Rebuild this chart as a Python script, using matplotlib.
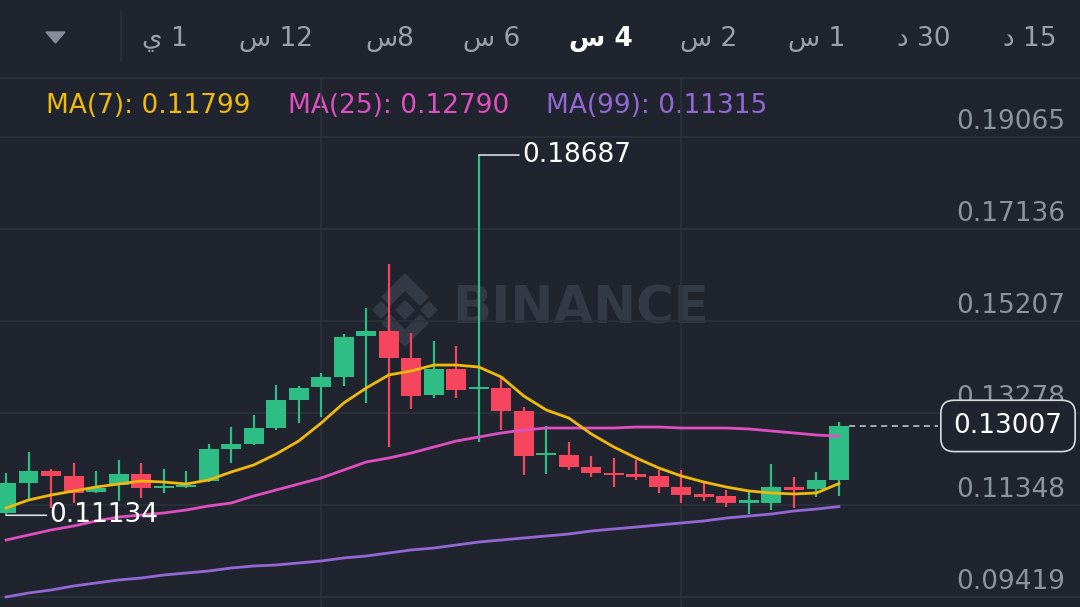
import numpy as np
import matplotlib
matplotlib.use("Agg")
import matplotlib.pyplot as plt
from matplotlib.patches import Polygon
from matplotlib.transforms import blended_transform_factory

opens = [0.11181, 0.11810, 0.12062, 0.11957, 0.11622, 0.11768, 0.11999, 0.11705, 0.11726, 0.11852,
         0.12523, 0.12628, 0.12963, 0.13551, 0.13823, 0.14033, 0.14892, 0.14997, 0.14431, 0.13655,
         0.14201, 0.13781, 0.13802, 0.13320, 0.12397, 0.12397, 0.12146, 0.12020, 0.11999, 0.11957,
         0.11726, 0.11580, 0.11538, 0.11391, 0.11391, 0.11726, 0.11685, 0.11873]
closes = [0.11810, 0.12062, 0.11957, 0.11601, 0.11705, 0.11999, 0.11705, 0.11747, 0.11768, 0.12523,
          0.12628, 0.12963, 0.13551, 0.13802, 0.14033, 0.14872, 0.14997, 0.14431, 0.13634, 0.14201,
          0.13760, 0.13823, 0.13320, 0.12376, 0.12439, 0.12146, 0.12020, 0.11978, 0.11936, 0.11726,
          0.11559, 0.11517, 0.11391, 0.11454, 0.11726, 0.11664, 0.11873, 0.13007]
highs = [0.12020, 0.12460, 0.12104, 0.12230, 0.12062, 0.12293, 0.12230, 0.12104, 0.12062, 0.12628,
         0.12984, 0.13236, 0.13865, 0.13844, 0.14117, 0.14934, 0.15480, 0.16402, 0.14955, 0.14788,
         0.14683, 0.18687, 0.14012, 0.13404, 0.13005, 0.12670, 0.12376, 0.12334, 0.12293, 0.12083,
         0.12083, 0.11831, 0.11664, 0.11664, 0.12209, 0.11936, 0.12041, 0.13089]
lows = [0.11134, 0.11454, 0.11286, 0.11391, 0.11601, 0.11433, 0.11496, 0.11601, 0.11705, 0.11831,
        0.12230, 0.12607, 0.12922, 0.13068, 0.13194, 0.13844, 0.13488, 0.12565, 0.13362, 0.13593,
        0.13593, 0.12670, 0.12922, 0.11978, 0.11999, 0.12083, 0.11936, 0.11726, 0.11873, 0.11601,
        0.11391, 0.11433, 0.11307, 0.11160, 0.11244, 0.11286, 0.11517, 0.11538]

# moyennes mobiles
ma7 = [0.11286, 0.11454, 0.11559, 0.11643, 0.11726, 0.11789, 0.11852, 0.11831, 0.11789, 0.11873,
       0.12041, 0.12188, 0.12418, 0.12691, 0.13068, 0.13488, 0.13802, 0.14075, 0.14159, 0.14284,
       0.14284, 0.14242, 0.14033, 0.13634, 0.13341, 0.13173, 0.12838, 0.12565, 0.12334, 0.12125,
       0.11957, 0.11831, 0.11726, 0.11643, 0.11601, 0.11580, 0.11601, 0.11799]
ma25 = [0.10615, 0.10720, 0.10825, 0.10909, 0.11014, 0.11097, 0.11139, 0.11181, 0.11244, 0.11328,
        0.11391, 0.11538, 0.11664, 0.11789, 0.11915, 0.12083, 0.12251, 0.12334, 0.12439, 0.12565,
        0.12691, 0.12775, 0.12859, 0.12922, 0.12963, 0.12963, 0.12963, 0.12963, 0.12984, 0.12984,
        0.12963, 0.12963, 0.12963, 0.12943, 0.12901, 0.12859, 0.12817, 0.12790]
ma99 = [0.09420, 0.09504, 0.09567, 0.09651, 0.09714, 0.09777, 0.09818, 0.09881, 0.09923, 0.09965,
        0.10028, 0.10070, 0.10091, 0.10133, 0.10175, 0.10238, 0.10280, 0.10343, 0.10406, 0.10447,
        0.10510, 0.10573, 0.10615, 0.10657, 0.10699, 0.10741, 0.10804, 0.10846, 0.10888, 0.10930,
        0.10972, 0.11014, 0.11076, 0.11118, 0.11160, 0.11223, 0.11265, 0.11315]

price_ticks = [0.19065, 0.17136, 0.15207, 0.13278, 0.11348, 0.09419]
vgrid_idx = [14, 30]

# onglets d'intervalle (ordre visuel)
tabs = ['ي 1', 'س 12', 'س8', 'س 6', 'س 4', 'س 2', 'س 1', 'د 30', 'د 15']
tab_x = [165, 276, 390, 492, 601, 709, 817, 924, 1030]
active_tab = 4

BG = '#1f242e'
GRID = '#2c323c'
UP = '#2ebd85'
DOWN = '#f6465d'
TXT = '#8c939e'
C7, C25, C99 = '#f0b90b', '#e04fbf', '#9468d4'
FS = 19

plt.rcParams['font.family'] = ['DejaVu Sans']

W, H = 1080, 607
fig = plt.figure(figsize=(W / 100, H / 100), dpi=100, facecolor=BG)

# calque de decor en pixels
deco = fig.add_axes([0, 0, 1, 1], zorder=0)
deco.set_xlim(0, W)
deco.set_ylim(H, 0)
deco.axis('off')
deco.set_facecolor(BG)

# barre du haut
deco.plot([0, W], [78, 78], color=GRID, lw=1.2)
deco.plot([121, 121], [12, 62], color=GRID, lw=1.2)
deco.add_patch(Polygon([(46, 32), (65, 32), (55.5, 43)], closed=True, color='#868d98'))
for i, (lab, x) in enumerate(zip(tabs, tab_x)):
    if i == active_tab:
        deco.text(x, 39, lab, color='white', fontsize=FS, fontweight='bold',
                  ha='center', va='center')
    else:
        deco.text(x, 39, lab, color='#9ba1ab', fontsize=FS, ha='center', va='center')

# legende des MA
deco.text(46, 106, f"MA(7): {ma7[-1]:.5f}", color=C7, fontsize=FS, va='center')
deco.text(288, 106, f"MA(25): {ma25[-1]:.5f}", color=C25, fontsize=FS, va='center')
deco.text(546, 106, f"MA(99): {ma99[-1]:.5f}", color=C99, fontsize=FS, va='center')

# filigrane
WM = '#343a45'
cx, cy = 405, 310
shapes = [
    [(0, -9), (9, 0), (0, 9), (-9, 0)],
    [(-32, 0), (-24, -8), (-16, 0), (-24, 8)],
    [(16, 0), (24, -8), (32, 0), (24, 8)],
    [(0, -36), (23, -13), (15, -5), (0, -20), (-15, -5), (-23, -13)],
    [(0, 36), (23, 13), (15, 5), (0, 20), (-15, 5), (-23, 13)],
]
for s in shapes:
    deco.add_patch(Polygon([(cx + a, cy + b) for a, b in s], closed=True, color=WM))
deco.text(452, 309, 'BINANCE', color=WM, fontsize=37, fontweight='bold',
          ha='left', va='center')

# graphique principal
top_px = 78
ax = fig.add_axes([0, 0, 1, (H - top_px) / H], zorder=1)
ax.set_facecolor('none')
ax.set_xlim(-0.27, 47.71)
ax.set_ylim(0.092104, 0.203020)
for sp in ax.spines.values():
    sp.set_visible(False)
ax.set_xticks([])
ax.set_yticks([])

for p in price_ticks:
    ax.axhline(p, color=GRID, lw=1.2, zorder=0)
for v in vgrid_idx:
    ax.axvline(v, color=GRID, lw=1.2, zorder=0)

x = np.arange(len(opens))
o = np.array(opens)
c = np.array(closes)
up = c >= o
colors = np.where(up, UP, DOWN)
body_lo = np.minimum(o, c)
body_h = np.maximum(np.abs(c - o), 0.0005)
ax.vlines(x, lows, highs, colors=colors, lw=1.6, zorder=2)
ax.bar(x, body_h, bottom=body_lo, width=0.88, color=colors, zorder=3)

ax.plot(x, ma99, color=C99, lw=2, zorder=4)
ax.plot(x, ma25, color=C25, lw=2, zorder=4)
ax.plot(x, ma7, color=C7, lw=2, zorder=4)

# etiquettes de prix
trans = blended_transform_factory(ax.transAxes, ax.transData)
for p in price_ticks:
    ax.annotate(f"{p:.5f}", xy=(1065 / W, p), xycoords=trans, xytext=(0, 15),
                textcoords='offset pixels', ha='right', va='center',
                color=TXT, fontsize=FS, zorder=5)

# plus haut / plus bas visibles
ih = int(np.argmax(highs))
il = int(np.argmin(lows))
ax.annotate(f"{highs[ih]:.5f}", xy=(ih, highs[ih]), xytext=(43, 0),
            textcoords='offset pixels', ha='left', va='center', color='white',
            fontsize=FS, zorder=6,
            arrowprops=dict(arrowstyle='-', color='#d8dbe0', lw=1.2, shrinkA=0, shrinkB=0))
ax.annotate(f"{lows[il]:.5f}", xy=(il, lows[il]), xytext=(43, 0),
            textcoords='offset pixels', ha='left', va='center', color='white',
            fontsize=FS, zorder=6,
            arrowprops=dict(arrowstyle='-', color='#d8dbe0', lw=1.2, shrinkA=0, shrinkB=0))

# prix courant
last = closes[-1]
ax.axhline(last, xmin=849 / W, xmax=938 / W, color='#c9cdd3', lw=1.1, ls=(0, (4, 3)), zorder=5)
ax.text(1008 / W, last, f"{last:.5f}", transform=trans, ha='center', va='center',
        color='white', fontsize=FS, zorder=7,
        bbox=dict(boxstyle='round,pad=0.48,rounding_size=0.5', fc=BG, ec='#d8dbe0', lw=1.2))

fig.savefig('out.png', dpi=100, facecolor=BG)
